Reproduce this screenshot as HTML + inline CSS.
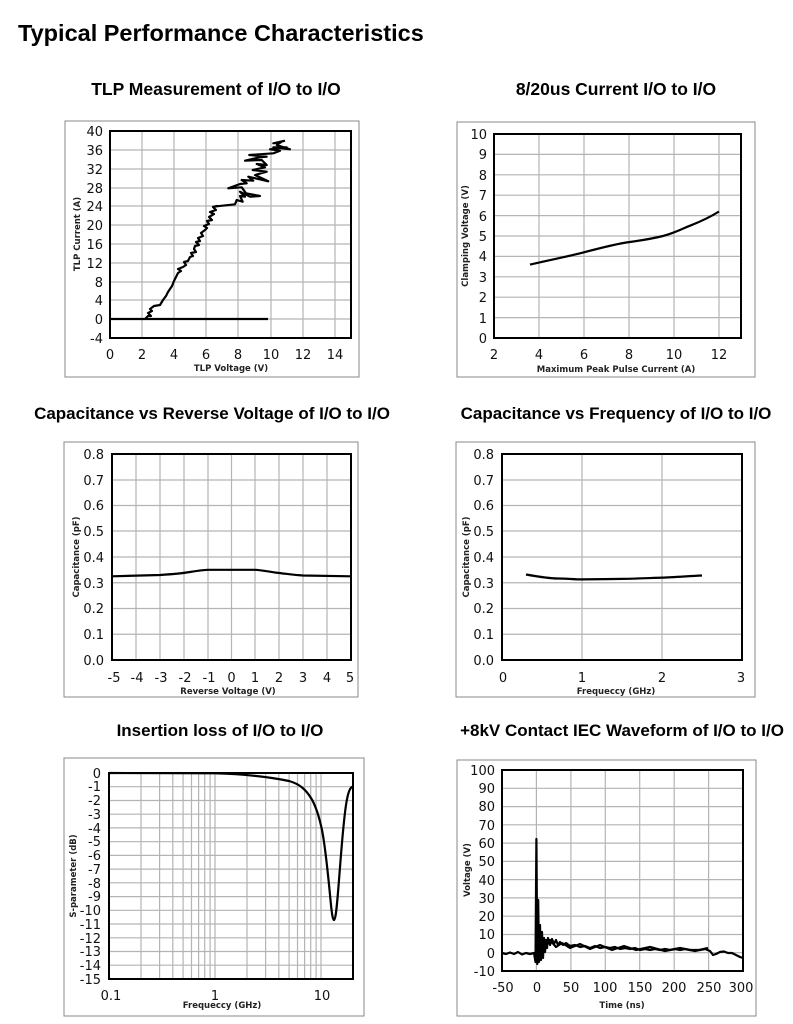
<!DOCTYPE html>
<html><head><meta charset="utf-8"><style>
body{margin:0;background:#fff;}
svg{display:block;}
.t{font-family:"Liberation Sans",sans-serif;font-weight:bold;fill:#000;}
.tk{font-family:"DejaVu Sans","Liberation Sans",sans-serif;font-size:13px;fill:#111;}
.ax{font-family:"DejaVu Sans","Liberation Sans",sans-serif;font-size:8.5px;font-weight:bold;fill:#222;}
.g{stroke:#b4b4b4;stroke-width:1.2;fill:none;}
.b{stroke:#000;stroke-width:2;fill:none;}
.o{stroke:#888;stroke-width:1;fill:none;}
.c{stroke:#000;stroke-width:2.2;fill:none;stroke-linejoin:round;}
</style></head><body>
<svg width="793" height="1024" viewBox="0 0 793 1024" xmlns="http://www.w3.org/2000/svg">
<text class="t" x="18" y="41" font-size="23.5">Typical Performance Characteristics</text>
<text class="t" x="216" y="95" font-size="17.5" text-anchor="middle">TLP Measurement of I/O to I/O</text>
<text class="t" x="616" y="95" font-size="17.5" text-anchor="middle">8/20us Current I/O to I/O</text>
<text class="t" x="212" y="419" font-size="17" text-anchor="middle">Capacitance vs Reverse Voltage  of I/O to I/O</text>
<text class="t" x="616" y="419" font-size="17" text-anchor="middle">Capacitance vs Frequency of I/O to I/O</text>
<text class="t" x="220" y="736" font-size="17" text-anchor="middle">Insertion loss  of I/O to I/O</text>
<text class="t" x="622" y="736" font-size="17" text-anchor="middle">+8kV Contact IEC Waveform of I/O to I/O</text>

<!-- Chart 1 TLP -->
<rect class="o" x="65" y="121" width="294" height="256"/>
<path class="g" d="M142 131V338M174 131V338M206 131V338M238 131V338M271 131V338M303 131V338M335 131V338M110 150H351M110 169H351M110 188H351M110 206H351M110 225H351M110 244H351M110 263H351M110 282H351M110 300H351M110 319H351"/>
<rect class="b" x="110" y="131" width="241" height="207"/>
<g class="tk" text-anchor="end">
<text x="103" y="136">40</text><text x="103" y="155">36</text><text x="103" y="174">32</text><text x="103" y="193">28</text><text x="103" y="211">24</text><text x="103" y="230">20</text><text x="103" y="249">16</text><text x="103" y="268">12</text><text x="103" y="287">8</text><text x="103" y="305">4</text><text x="103" y="324">0</text><text x="103" y="343">-4</text>
</g>
<g class="tk" text-anchor="middle">
<text x="110" y="359">0</text><text x="142" y="359">2</text><text x="174" y="359">4</text><text x="206" y="359">6</text><text x="238" y="359">8</text><text x="271" y="359">10</text><text x="303" y="359">12</text><text x="335" y="359">14</text>
</g>
<text class="ax" x="231" y="371" text-anchor="middle">TLP Voltage (V)</text>
<text class="ax" transform="translate(80,234) rotate(-90)" text-anchor="middle">TLP Current (A)</text>
<path class="c" d="M110 319H268"/>
<path class="c" d="M145 319L148 316 151 316 148 313 152 311 150 309 154 306 160 305 163 300 166 296 168 292 170 289 172 286 174 281 176 277 178 273 181 271 178 269 183 267 186 265 184 262 188 261 190 257 193 256 191 253 196 252 194 249 195 246 199 245 196 242 200 241 198 238 203 236 201 233 205 230 207 228 204 226 209 224 207 221 212 220 209 217 214 214 210 212 216 210 213 207 217 206 214 207 213.3 206.7 235 204.3 236.7 200 242.7 201.7 240 196 245 196.7 240 191.7 250 196.7 260 196 246 193.3 241.7 187.3 228.3 188.3 240 184 246.7 183.3 241.7 180 253.3 180.7 248.3 176.7 268.3 181.3 255 175 266.7 171.7 252.7 170 265 167.3 256.7 164 266.7 165 261.7 160 245 160.7 260 157.3 266.7 156.7 249.3 155 273.3 153.3 280 150.7 270 149.3 286.7 147.3 273.3 147.3 290 149.3 276.7 145 281.7 141.7 273.3 143.3 285 140.7"/>

<!-- Chart 3 8/20 -->
<rect class="o" x="457" y="122" width="298" height="255"/>
<path class="g" d="M539 134V338M584 134V338M629 134V338M674 134V338M719 134V338M494 154.4H741M494 174.8H741M494 195.2H741M494 215.6H741M494 236H741M494 256.4H741M494 276.8H741M494 297.2H741M494 317.6H741"/>
<rect class="b" x="494" y="134" width="247" height="204"/>
<g class="tk" text-anchor="end">
<text x="487" y="139">10</text><text x="487" y="159">9</text><text x="487" y="180">8</text><text x="487" y="200">7</text><text x="487" y="221">6</text><text x="487" y="241">5</text><text x="487" y="261">4</text><text x="487" y="282">3</text><text x="487" y="302">2</text><text x="487" y="323">1</text><text x="487" y="343">0</text>
</g>
<g class="tk" text-anchor="middle">
<text x="494" y="359">2</text><text x="539" y="359">4</text><text x="584" y="359">6</text><text x="629" y="359">8</text><text x="674" y="359">10</text><text x="719" y="359">12</text>
</g>
<text class="ax" x="616" y="372" text-anchor="middle">Maximum Peak Pulse Current (A)</text>
<text class="ax" transform="translate(468,236) rotate(-90)" text-anchor="middle">Clamping Voltage (V)</text>
<path class="c" d="M530 264.6C550 260 570 256 584 252.3S615 244 629 242.1S655 238 663 236S678 231 685 227.8S704 221 719 211.5"/>

<!-- Chart 5 cap vs V -->
<rect class="o" x="64" y="442" width="294" height="255"/>
<path class="g" d="M136 454V660M160 454V660M184 454V660M208 454V660M231.5 454V660M255 454V660M279 454V660M303 454V660M327 454V660M112 480H351M112 505.5H351M112 531H351M112 557H351M112 582.75H351M112 608.5H351M112 634.25H351"/>
<rect class="b" x="112" y="454" width="239" height="206"/>
<g class="tk" text-anchor="end">
<text x="104" y="459">0.8</text><text x="104" y="485">0.7</text><text x="104" y="510">0.6</text><text x="104" y="536">0.5</text><text x="104" y="562">0.4</text><text x="104" y="588">0.3</text><text x="104" y="613">0.2</text><text x="104" y="639">0.1</text><text x="104" y="665">0.0</text>
</g>
<g class="tk" text-anchor="middle">
<text x="114" y="682">-5</text><text x="137" y="682">-4</text><text x="161" y="682">-3</text><text x="185" y="682">-2</text><text x="209" y="682">-1</text><text x="231.5" y="682">0</text><text x="255" y="682">1</text><text x="279" y="682">2</text><text x="303" y="682">3</text><text x="327" y="682">4</text><text x="350" y="682">5</text>
</g>
<text class="ax" x="228" y="694" text-anchor="middle">Reverse Voltage (V)</text>
<text class="ax" transform="translate(79,557) rotate(-90)" text-anchor="middle">Capacitance (pF)</text>
<path class="c" d="M112 576.3L160 575 C175 574 184 573 190 572 S202 570 208 569.8L255 569.8C262 570 270 572 279 573 S295 575 303 575.5L351 576.3"/>

<!-- Chart 6 cap vs f -->
<rect class="o" x="456" y="442" width="299" height="255"/>
<path class="g" d="M582 454V660M662 454V660M502 480H742M502 505.5H742M502 531H742M502 557H742M502 582.75H742M502 608.5H742M502 634.25H742"/>
<rect class="b" x="502" y="454" width="240" height="206"/>
<g class="tk" text-anchor="end">
<text x="494" y="459">0.8</text><text x="494" y="485">0.7</text><text x="494" y="510">0.6</text><text x="494" y="536">0.5</text><text x="494" y="562">0.4</text><text x="494" y="588">0.3</text><text x="494" y="613">0.2</text><text x="494" y="639">0.1</text><text x="494" y="665">0.0</text>
</g>
<g class="tk" text-anchor="middle">
<text x="503" y="682">0</text><text x="582" y="682">1</text><text x="662" y="682">2</text><text x="741" y="682">3</text>
</g>
<text class="ax" x="616" y="694" text-anchor="middle">Frequeccy (GHz)</text>
<text class="ax" transform="translate(469,557) rotate(-90)" text-anchor="middle">Capacitance (pF)</text>
<path class="c" d="M526 574.5C540 577 550 578.5 558 578.5S575 579.4 582 579.4S610 579 622 578.9S650 578 662 577.6S690 576 702 575.5"/>

<!-- Chart 2 insertion loss -->
<rect class="o" x="64" y="758" width="300" height="258"/>
<path class="g" d="M141 773V979M159.6 773V979M172.8 773V979M183.1 773V979M191.5 773V979M198.6 773V979M204.7 773V979M210.1 773V979M215 773V979M247 773V979M265.6 773V979M278.8 773V979M289.1 773V979M297.5 773V979M304.6 773V979M310.7 773V979M316.1 773V979M321 773V979M109 786.7H353M109 800.5H353M109 814.2H353M109 827.9H353M109 841.7H353M109 855.4H353M109 869.1H353M109 882.8H353M109 896.6H353M109 910.3H353M109 924H353M109 937.8H353M109 951.5H353M109 965.2H353"/>
<rect class="b" x="109" y="773" width="244" height="206"/>
<g class="tk" text-anchor="end">
<text x="101" y="778">0</text><text x="101" y="791">-1</text><text x="101" y="805">-2</text><text x="101" y="819">-3</text><text x="101" y="833">-4</text><text x="101" y="846">-5</text><text x="101" y="860">-6</text><text x="101" y="874">-7</text><text x="101" y="888">-8</text><text x="101" y="901">-9</text><text x="101" y="915">-10</text><text x="101" y="929">-11</text><text x="101" y="943">-12</text><text x="101" y="956">-13</text><text x="101" y="970">-14</text><text x="101" y="984">-15</text>
</g>
<g class="tk" text-anchor="middle">
<text x="111" y="1000">0.1</text><text x="215" y="1000">1</text><text x="322" y="1000">10</text>
</g>
<text class="ax" x="222" y="1008" text-anchor="middle">Frequeccy (GHz)</text>
<text class="ax" transform="translate(76,876) rotate(-90)" text-anchor="middle">S-parameter (dB)</text>
<path class="c" d="M109 773L215 773.3C240 774 265 776 289 781C300 784 306 790 311 798C316 806 319 816 322 830C326 850 329 885 331 905C332 915 333 920 334 920C336 919 337 905 339 880C341 855 343 825 346 805C348 792 350 787 353 786.7"/>

<!-- Chart 4 ESD waveform -->
<rect class="o" x="457" y="760" width="299" height="256"/>
<path class="g" d="M536.4 770V971M570.9 770V971M605.3 770V971M639.7 770V971M674.2 770V971M708.6 770V971M502 788.3H743M502 806.6H743M502 824.8H743M502 843.1H743M502 861.4H743M502 879.6H743M502 897.9H743M502 916.2H743M502 934.5H743M502 952.7H743"/>
<rect class="b" x="502" y="770" width="241" height="201"/>
<g class="tk" text-anchor="end">
<text x="495" y="775">100</text><text x="495" y="793">90</text><text x="495" y="811">80</text><text x="495" y="830">70</text><text x="495" y="848">60</text><text x="495" y="866">50</text><text x="495" y="885">40</text><text x="495" y="903">30</text><text x="495" y="921">20</text><text x="495" y="939">10</text><text x="495" y="958">0</text><text x="495" y="976">-10</text>
</g>
<g class="tk" text-anchor="middle">
<text x="503" y="992">-50</text><text x="537" y="992">0</text><text x="571" y="992">50</text><text x="605" y="992">100</text><text x="640" y="992">150</text><text x="674" y="992">200</text><text x="709" y="992">250</text><text x="741" y="992">300</text>
</g>
<text class="ax" x="622" y="1008" text-anchor="middle">Time (ns)</text>
<text class="ax" transform="translate(470,870) rotate(-90)" text-anchor="middle">Voltage (V)</text>
<path class="c" stroke-width="3" d="M502 953L506 954 510 952.5 514 954 518 952 522 954.5 526 953 530 954 534 953 535.5 962 536.4 839 537.3 964 538.2 900 539 962 540 925 541 960 542 932 543 958 544 938 545 952 546 940 547 948 548 938 550 945 552 939 554 944 556 940 558 945 560 942 563 945 566 943 570 946 575 945 580 947 585 946 590 948 595 946 600 948 605 947 610 948 615 947 620 949 625 948 630 949 635 948 640 950 645 949 650 950 655 949 660 950 665 949 670 950 675 949 680 950 685 949 690 950 695 950 700 950 705 949 710 951 713 955 716 954 720 952 724 951.5 728 953 732 953 736 955 740 957 743 958"/>
<path class="c" stroke-width="2" d="M540 938L545 945 550 940 556 947 562 943 570 948 580 944 590 949 600 945 612 950 624 946 636 950 650 947 665 951 680 948 695 951 708 948"/>
</svg>
</body></html>
